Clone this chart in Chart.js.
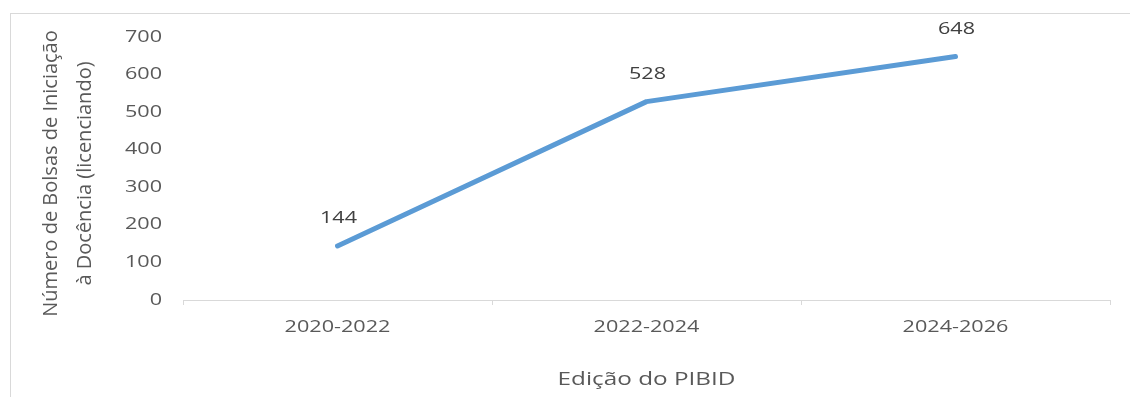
<!DOCTYPE html>
<html>
<head>
<meta charset="utf-8">
<script src="https://cdn.jsdelivr.net/npm/chart.js@4.4.0/dist/chart.umd.min.js"></script>
<style>
html,body{margin:0;padding:0;background:#fff;}
#wrap{width:1130px;height:397px;position:relative;}
</style>
</head>
<body>
<div id="wrap"><canvas id="c" width="1130" height="397"></canvas></div>
<script>
const categories = ["2020-2022", "2022-2024", "2024-2026"];
const bolsas = [144, 528, 648];
const yTicks = [0, 100, 200, 300, 400, 500, 600, 700];
const yTitle = ["Número de Bolsas de Iniciação", "à Docência (licenciando)"];
const xTitle = "Edição do PIBID";

const FONT = "'Open Sans', 'Noto Sans', sans-serif";
const TEXT_SX = 1.35; // horizontal widening of the reference's glyphs

const canvas = document.getElementById('c');
const context = canvas.getContext('2d');
const nativeFill = CanvasRenderingContext2D.prototype.fillText;
context.fillText = function (text, x, y, maxWidth) {
  if (!this.__wide) {
    return maxWidth === undefined ? nativeFill.call(this, text, x, y) : nativeFill.call(this, text, x, y, maxWidth);
  }
  this.save();
  this.translate(x, y);
  this.scale(TEXT_SX, 1);
  if (maxWidth === undefined) nativeFill.call(this, text, 0, 0);
  else nativeFill.call(this, text, 0, 0, maxWidth / TEXT_SX);
  this.restore();
};

const framePlugin = {
  id: 'frame',
  beforeDraw(chart) {
    const ctx = chart.ctx;
    ctx.save();
    ctx.fillStyle = '#ffffff';
    ctx.fillRect(0, 0, chart.width, chart.height);
    ctx.strokeStyle = '#d9d9d9';
    ctx.lineWidth = 1;
    ctx.strokeRect(10.5, 13.5, 1300, 500);
    ctx.restore();
    ctx.__wide = true;
  }
};

const yTitlePlugin = {
  id: 'yTitle',
  afterDraw(chart) {
    const ctx = chart.ctx;
    const ys = chart.scales.y;
    ctx.__wide = false;
    ctx.save();
    ctx.font = "20px " + FONT;
    ctx.fillStyle = '#595959';
    ctx.textAlign = 'center';
    ctx.textBaseline = 'middle';
    ctx.translate(51, (ys.top + ys.bottom) / 2 + 5);
    ctx.rotate(-Math.PI / 2);
    yTitle.forEach((line, i) => ctx.fillText(line, 0, i * 34));
    ctx.restore();
  }
};

const labelPlugin = {
  id: 'valueLabels',
  afterDatasetsDraw(chart) {
    const ctx = chart.ctx;
    const meta = chart.getDatasetMeta(0);
    ctx.save();
    ctx.font = "16px " + FONT;
    ctx.fillStyle = '#404040';
    ctx.textAlign = 'center';
    ctx.textBaseline = 'middle';
    meta.data.forEach((pt, i) => {
      ctx.fillText(String(bolsas[i]), pt.x + 1, pt.y - 27);
    });
    ctx.restore();
  }
};

new Chart(canvas, {
  type: 'line',
  data: {
    labels: categories,
    datasets: [{
      data: bolsas,
      borderColor: '#5b9bd5',
      borderWidth: 5,
      borderCapStyle: 'round',
      borderJoinStyle: 'round',
      pointRadius: 0,
      pointHoverRadius: 0,
      tension: 0,
      fill: false
    }]
  },
  options: {
    responsive: false,
    animation: false,
    devicePixelRatio: 1,
    events: [],
    layout: { padding: { top: 37, right: 20, bottom: 0, left: 0 } },
    plugins: {
      legend: { display: false },
      tooltip: { enabled: false }
    },
    scales: {
      x: {
        type: 'category',
        offset: true,
        afterFit(scale) { scale.height = 97; },
        grid: {
          display: true,
          offset: true,
          drawOnChartArea: false,
          drawTicks: true,
          tickLength: 5,
          color: '#d9d9d9'
        },
        border: { display: true, color: '#d9d9d9', width: 1 },
        ticks: {
          color: '#595959',
          font: { family: FONT, size: 16 },
          padding: 13,
          maxRotation: 0
        },
        title: {
          display: true,
          text: xTitle,
          color: '#595959',
          font: { family: FONT, size: 18 },
          padding: { top: 0, bottom: 6 }
        }
      },
      y: {
        min: 0,
        max: 700,
        afterFit(scale) { scale.width = 183; },
        afterBuildTicks(scale) { scale.ticks = yTicks.map(v => ({ value: v })); },
        grid: { display: false, drawTicks: false },
        border: { display: false },
        ticks: {
          color: '#595959',
          font: { family: FONT, size: 16 },
          padding: 21
        },
        title: { display: false }
      }
    }
  },
  plugins: [framePlugin, labelPlugin, yTitlePlugin]
});
</script>
</body>
</html>
